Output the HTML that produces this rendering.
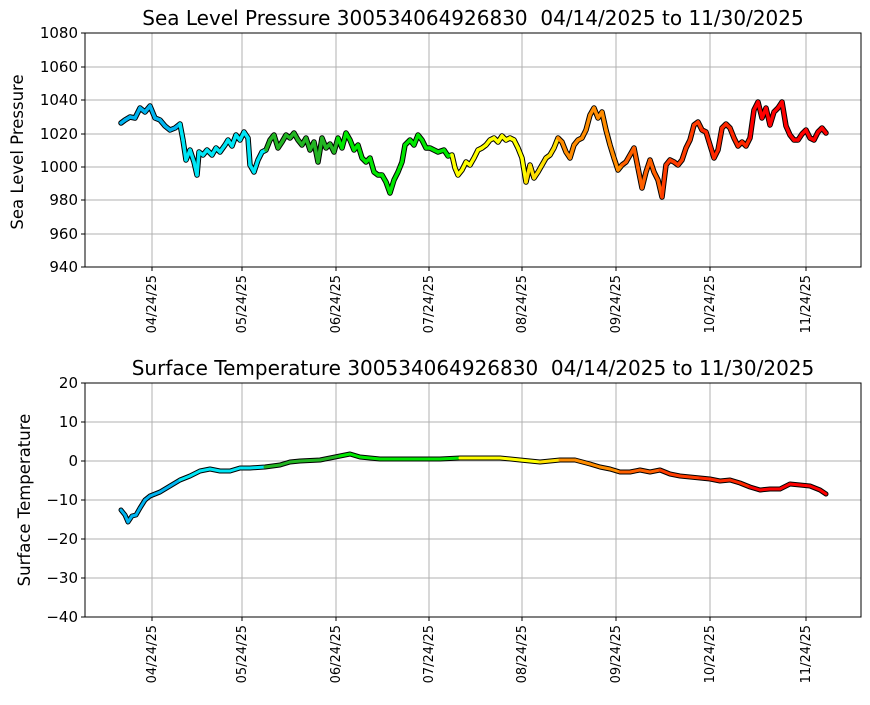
<!DOCTYPE html>
<html><head><meta charset="utf-8"><style>
body{margin:0;background:#fff;}
svg text{font-family:"DejaVu Sans","Liberation Sans",sans-serif;fill:#000;white-space:pre;}
</style></head><body>
<svg id="s" width="870" height="700" xmlns="http://www.w3.org/2000/svg">
<rect width="870" height="700" fill="#fff"/>
<text x="473" y="25" font-size="20" text-anchor="middle">Sea Level Pressure 300534064926830&#160;&#160;04/14/2025 to 11/30/2025</text>
<text x="473" y="375" font-size="20" text-anchor="middle">Surface Temperature 300534064926830&#160;&#160;04/14/2025 to 11/30/2025</text>
<text transform="translate(23,152) rotate(-90)" font-size="16.5" text-anchor="middle">Sea Level Pressure</text>
<text transform="translate(30,500) rotate(-90)" font-size="16.5" text-anchor="middle">Surface Temperature</text>
</svg>
<script>
const S=document.getElementById('s'),NS='http://www.w3.org/2000/svg';
function el(t,a,txt){const e=document.createElementNS(NS,t);for(const k in a)e.setAttribute(k,a[k]);if(txt!==undefined)e.textContent=txt;S.appendChild(e);return e;}
const xt=[152,242,336,429,522,616,710,806],xl=['04/24/25','05/24/25','06/24/25','07/24/25','08/24/25','09/24/25','10/24/25','11/24/25'];
function axes(top,bot,ticks){
 ticks.forEach(t=>{el('line',{x1:85,x2:861,y1:t[0],y2:t[0],stroke:'#b0b0b0','stroke-width':1});
  el('line',{x1:81,x2:85,y1:t[0],y2:t[0],stroke:'#000'});
  el('text',{x:78,y:t[0]+5,'font-size':15,'text-anchor':'end'},t[1]);});
 xt.forEach((x,i)=>{el('line',{x1:x,x2:x,y1:top,y2:bot,stroke:'#b0b0b0','stroke-width':1});
  el('line',{x1:x,x2:x,y1:bot,y2:bot+4,stroke:'#000'});
  el('text',{transform:`translate(${x+4},${bot+8}) rotate(-90)`,'font-size':13,'text-anchor':'end'},xl[i]);});
}
axes(33,267,[[33,'1080'],[67,'1060'],[100,'1040'],[134,'1020'],[167,'1000'],[200,'980'],[234,'960'],[267,'940']]);
axes(383,617,[[383,'20'],[422,'10'],[461,'0'],[500,'\u221210'],[539,'\u221220'],[578,'\u221230'],[617,'\u221240']]);
function col(x){
 const c=[[121,'#00b4f0'],[180,'#00e5f5'],[265,'#22b522'],[335,'#00e800'],[450,'#ffff00'],[525,'#ffe000'],[555,'#ff8c00'],[620,'#ff6000'],[660,'#ff3c00'],[700,'#ff2800'],[750,'#ff0000']];
 let r=c[0][1];c.forEach(p=>{if(x>=p[0])r=p[1];});return r;}
function series(pts,w){
 let d=pts.map((p,i)=>(i?'L':'M')+p[0]+','+p[1]).join('');
 el('path',{d:d,fill:'none',stroke:'#000','stroke-width':w+2,'stroke-linejoin':'round','stroke-linecap':'round'});
 for(let i=0;i<pts.length-1;i++){
  el('line',{x1:pts[i][0],y1:pts[i][1],x2:pts[i+1][0],y2:pts[i+1][1],stroke:col(pts[i][0]),'stroke-width':w,'stroke-linecap':'round'});}
}
const P=[[121,123],[125,120],[130,117],[135,118],[140,108],[145,112],[150,106],[155,118],[160,120],[165,126],[170,130],[175,128],[180,124],[183,140],[186,160],[190,150],[194,162],[197,175],[199,152],[203,155],[207,150],[212,155],[216,148],[220,152],[225,145],[228,140],[232,146],[236,135],[240,140],[244,132],[248,138],[250,165],[254,172],[258,160],[262,152],[266,150],[270,140],[274,135],[278,148],[282,142],[286,135],[290,138],[294,133],[298,140],[302,145],[306,138],[310,150],[314,142],[318,162],[322,138],[326,148],[330,144],[334,152],[338,138],[342,148],[346,133],[350,140],[354,150],[358,145],[362,158],[366,162],[370,158],[374,172],[378,175],[382,175],[386,182],[390,193],[394,180],[398,172],[402,162],[405,145],[410,140],[414,145],[418,135],[422,140],[426,148],[430,148],[434,150],[438,152],[444,150],[448,156],[452,155],[455,168],[458,175],[462,170],[466,162],[470,165],[474,158],[478,150],[482,148],[486,145],[490,140],[494,138],[498,142],[502,136],[506,140],[510,138],[514,140],[518,148],[522,158],[526,182],[530,165],[534,178],[538,172],[542,165],[546,158],[550,155],[554,148],[558,138],[562,142],[566,152],[570,158],[574,145],[578,140],[582,138],[586,130],[590,115],[594,108],[598,118],[602,112],[606,130],[610,145],[614,158],[618,170],[622,165],[626,162],[630,155],[634,148],[638,168],[642,188],[646,172],[650,160],[654,172],[658,180],[662,197],[666,165],[670,160],[674,162],[678,165],[682,160],[686,148],[690,140],[694,125],[698,122],[702,130],[706,132],[710,145],[714,158],[718,150],[722,128],[726,124],[730,128],[734,138],[738,146],[742,142],[746,146],[750,138],[754,110],[758,102],[762,118],[766,108],[770,125],[774,112],[778,108],[782,102],[786,126],[790,135],[794,140],[798,140],[802,134],[806,130],[810,138],[814,140],[818,132],[822,128],[826,133]];
series(P,3.5);
const T=[[121,510],[125,515],[128,522],[132,516],[136,515],[140,508],[145,500],[150,496],[155,494],[160,492],[170,486],[180,480],[190,476],[200,471],[210,469],[220,471],[230,471],[240,468],[250,468],[265,467],[280,465],[290,462],[300,461],[320,460],[340,456],[350,454],[360,457],[380,459],[400,459],[420,459],[440,459],[460,458],[480,458],[500,458],[520,460],[540,462],[560,460],[575,460],[590,464],[600,467],[610,469],[620,472],[630,472],[640,470],[650,472],[660,470],[670,474],[680,476],[690,477],[700,478],[710,479],[720,481],[730,480],[740,483],[750,487],[760,490],[770,489],[780,489],[790,484],[800,485],[810,486],[820,490],[826,494]];
series(T,3);
el('rect',{x:85,y:33,width:776,height:234,fill:'none',stroke:'#000','stroke-width':1});
el('rect',{x:85,y:383,width:776,height:234,fill:'none',stroke:'#000','stroke-width':1});
</script>
</body></html>
